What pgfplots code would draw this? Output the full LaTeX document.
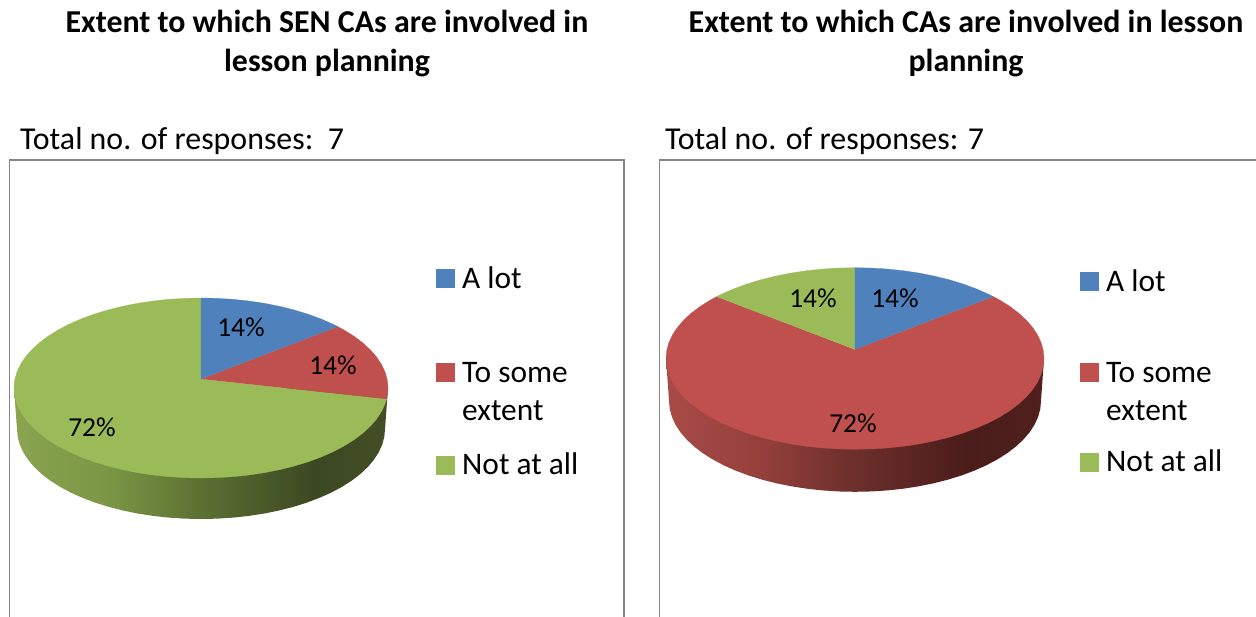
\documentclass[border=0pt]{standalone}
\usepackage{pgfplots}
\usepackage{pgfplotstable}
\usepackage{fontspec}
\pgfplotsset{compat=1.18}
\setmainfont{Carlito}
\definecolor{cblue}{HTML}{4F81BD}
\definecolor{cred}{HTML}{C0504D}
\definecolor{cgreen}{HTML}{9BBB59}
\definecolor{frame}{HTML}{868686}
\definecolor{g0}{HTML}{8AA450}\definecolor{g1}{HTML}{7A9544}\definecolor{g2}{HTML}{5C7033}\definecolor{g3}{HTML}{3C4822}\definecolor{g4}{HTML}{434E26}
\definecolor{r0}{HTML}{A84B47}\definecolor{r1}{HTML}{943F3B}\definecolor{r2}{HTML}{6C2F2C}\definecolor{r3}{HTML}{4A1C1A}\definecolor{r4}{HTML}{4F201E}
\pgfdeclarehorizontalshading{greenwall}{100bp}{color(0bp)=(g0); color(25bp)=(g0); color(38bp)=(g1); color(50bp)=(g2); color(65bp)=(g3); color(75bp)=(g4); color(100bp)=(g4)}
\pgfdeclarehorizontalshading{redwall}{100bp}{color(0bp)=(r0); color(25bp)=(r0); color(38bp)=(r1); color(50bp)=(r2); color(65bp)=(r3); color(75bp)=(r4); color(100bp)=(r4)}
% slice outlines in unit-ellipse coordinates (14% = 47 deg on the tilted disc)
\pgfplotstableread{
s c
0 .1
0 1
.0872 .9962
.1736 .9848
.2588 .9659
.3420 .9397
.4226 .9063
.5 .8660
.5736 .8192
.6428 .7660
.7071 .7071
.7314 .6820
}\sliceA
\pgfplotstableread{
s c
0 .1
.7314 .6820
.7660 .6428
.8192 .5736
.8660 .5
.9063 .4226
.9397 .3420
.9659 .2588
.9848 .1736
.9962 .0872
1 0
.9962 -.0872
.9925 -.1219
}\sliceBsmall
\pgfplotstableread{
s c
0 .1
.9925 -.1219
.9848 -.1736
.9659 -.2588
.9397 -.3420
.9063 -.4226
.8660 -.5
.8192 -.5736
.7660 -.6428
.7071 -.7071
.6428 -.7660
.5736 -.8192
.5 -.8660
.4226 -.9063
.3420 -.9397
.2588 -.9659
.1736 -.9848
.0872 -.9962
0 -1
-.0872 -.9962
-.1736 -.9848
-.2588 -.9659
-.3420 -.9397
-.4226 -.9063
-.5 -.8660
-.5736 -.8192
-.6428 -.7660
-.7071 -.7071
-.7660 -.6428
-.8192 -.5736
-.8660 -.5
-.9063 -.4226
-.9397 -.3420
-.9659 -.2588
-.9848 -.1736
-.9962 -.0872
-1 0
-.9962 .0872
-.9848 .1736
-.9659 .2588
-.9397 .3420
-.9063 .4226
-.8660 .5
-.8192 .5736
-.7660 .6428
-.7071 .7071
-.6428 .7660
-.5736 .8192
-.5 .8660
-.4226 .9063
-.3420 .9397
-.2588 .9659
-.1736 .9848
-.0872 .9962
0 1
}\sliceCbig
\pgfplotstableread{
s c
0 .1
.7314 .6820
.7660 .6428
.8192 .5736
.8660 .5
.9063 .4226
.9397 .3420
.9659 .2588
.9848 .1736
.9962 .0872
1 0
.9962 -.0872
.9848 -.1736
.9659 -.2588
.9397 -.3420
.9063 -.4226
.8660 -.5
.8192 -.5736
.7660 -.6428
.7071 -.7071
.6428 -.7660
.5736 -.8192
.5 -.8660
.4226 -.9063
.3420 -.9397
.2588 -.9659
.1736 -.9848
.0872 -.9962
0 -1
-.0872 -.9962
-.1736 -.9848
-.2588 -.9659
-.3420 -.9397
-.4226 -.9063
-.5 -.8660
-.5736 -.8192
-.6428 -.7660
-.7071 -.7071
-.7660 -.6428
-.8192 -.5736
-.8660 -.5
-.9063 -.4226
-.9397 -.3420
-.9659 -.2588
-.9848 -.1736
-.9962 -.0872
-1 0
-.9962 .0872
-.9848 .1736
-.9659 .2588
-.9397 .3420
-.9063 .4226
-.8660 .5
-.8192 .5736
-.7660 .6428
-.7314 .6820
}\sliceBbig
\pgfplotstableread{
s c
0 .1
-.7314 .6820
-.7071 .7071
-.6428 .7660
-.5736 .8192
-.5 .8660
-.4226 .9063
-.3420 .9397
-.2588 .9659
-.1736 .9848
-.0872 .9962
0 1
}\sliceCsmall
\pgfplotstableread{
s c w
1 0 0
1 0 1
.9962 -.0872 1
.9848 -.1736 1
.9659 -.2588 1
.9397 -.3420 1
.9063 -.4226 1
.8660 -.5 1
.8192 -.5736 1
.7660 -.6428 1
.7071 -.7071 1
.6428 -.7660 1
.5736 -.8192 1
.5 -.8660 1
.4226 -.9063 1
.3420 -.9397 1
.2588 -.9659 1
.1736 -.9848 1
.0872 -.9962 1
0 -1 1
-.0872 -.9962 1
-.1736 -.9848 1
-.2588 -.9659 1
-.3420 -.9397 1
-.4226 -.9063 1
-.5 -.8660 1
-.5736 -.8192 1
-.6428 -.7660 1
-.7071 -.7071 1
-.7660 -.6428 1
-.8192 -.5736 1
-.8660 -.5 1
-.9063 -.4226 1
-.9397 -.3420 1
-.9659 -.2588 1
-.9848 -.1736 1
-.9962 -.0872 1
-1 0 1
-1 0 0
}\wallT
\newcommand\slice[6]{\addplot[fill=#1,draw=#1,line width=.3pt] table[x expr={#2+#4*\thisrow{s}},y expr={#3-#5*\thisrow{c}}] {#6};}
\newcommand\wall[6]{\addplot[shading=#1,draw=none] table[x expr={#2+#4*(1-0.016*\thisrow{w})*\thisrow{s}},y expr={#3-#5*\thisrow{c}+#6*\thisrow{w}}] {\wallT};}
\newcommand\ttl[2]{\fontsize{#1}{#1}\selectfont #2}
\begin{document}
\begin{tikzpicture}
\path[use as bounding box] (0,0) rectangle (1256bp,617bp);
\begin{axis}[at={(0,0)},anchor=south west,scale only axis,width=1256bp,height=617bp,
  xmin=0,xmax=1256,ymin=0,ymax=617,y dir=reverse,hide axis,clip=true]
% frames
\addplot[frame,line width=1.6pt] coordinates {(9.5,617)(9.5,160)(624,160)(624,617)};
\addplot[frame,line width=1.6pt] coordinates {(659.5,617)(659.5,160)(1256,160)};
% left pie
\wall{greenwall}{201}{388}{187}{90}{41}
\slice{cgreen}{201}{388}{187}{90}{\sliceCbig}
\slice{cred}{201}{388}{187}{90}{\sliceBsmall}
\slice{cblue}{201}{388}{187}{90}{\sliceA}
% right pie
\wall{redwall}{855}{358.5}{189}{90.8}{42.5}
\slice{cred}{855}{358.5}{189}{90.8}{\sliceBbig}
\slice{cgreen}{855}{358.5}{189}{90.8}{\sliceCsmall}
\slice{cblue}{855}{358.5}{189}{90.8}{\sliceA}
% legend keys
\addplot[only marks,mark=square*,mark size=9bp,cblue,mark options={draw=none,fill=cblue}] coordinates {(445,278)(1089,281)};
\addplot[only marks,mark=square*,mark size=9bp,cred,mark options={draw=none,fill=cred}] coordinates {(445,372)(1089,372)};
\addplot[only marks,mark=square*,mark size=9bp,cgreen,mark options={draw=none,fill=cgreen}] coordinates {(445,465)(1089,462)};
% titles
\node[anchor=base] at (axis cs:327,33) {\ttl{32}{\bfseries Extent to which SEN CAs are involved in}};
\node[anchor=base] at (axis cs:327,72) {\ttl{32}{\bfseries lesson planning}};
\node[anchor=base] at (axis cs:966,33) {\ttl{32}{\bfseries Extent to which CAs are involved in lesson}};
\node[anchor=base] at (axis cs:966,72) {\ttl{32}{\bfseries planning}};
\node[anchor=base west,inner sep=0pt] at (axis cs:20,149) {\ttl{32}{Total no. of responses:\ \ 7}};
\node[anchor=base west,inner sep=0pt] at (axis cs:665,149) {\ttl{32}{Total no. of responses: 7}};
% legends
\node[anchor=base west,inner sep=0pt] at (axis cs:462,288) {\ttl{31.5}{A lot}};
\node[anchor=base west,inner sep=0pt] at (axis cs:462,382) {\ttl{31.5}{To some}};
\node[anchor=base west,inner sep=0pt] at (axis cs:462,420) {\ttl{31.5}{extent}};
\node[anchor=base west,inner sep=0pt] at (axis cs:462,474) {\ttl{31.5}{Not at all}};
\node[anchor=base west,inner sep=0pt] at (axis cs:1106,291) {\ttl{31.5}{A lot}};
\node[anchor=base west,inner sep=0pt] at (axis cs:1106,382) {\ttl{31.5}{To some}};
\node[anchor=base west,inner sep=0pt] at (axis cs:1106,420) {\ttl{31.5}{extent}};
\node[anchor=base west,inner sep=0pt] at (axis cs:1106,471) {\ttl{31.5}{Not at all}};
% data labels
\node at (axis cs:241,327) {\ttl{27.5}{14\%}};
\node at (axis cs:333,365) {\ttl{27.5}{14\%}};
\node at (axis cs:92,427) {\ttl{27.5}{72\%}};
\node at (axis cs:813,298) {\ttl{27.5}{14\%}};
\node at (axis cs:895,298) {\ttl{27.5}{14\%}};
\node at (axis cs:853,423) {\ttl{27.5}{72\%}};
\end{axis}
\end{tikzpicture}
\end{document}
